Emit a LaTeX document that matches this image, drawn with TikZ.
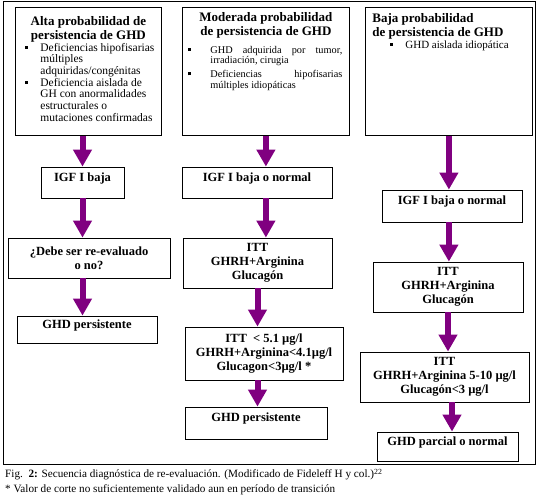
\documentclass[tikz,border=0pt]{standalone}
\usepackage{fontspec}
\setmainfont{Liberation Serif}
\usetikzlibrary{arrows.meta,positioning}

\definecolor{morado}{RGB}{128,0,128}
\newcommand{\cuadrito}{\rule[2.5pt]{3pt}{3pt}}
% vineta: sangria del cuadrito, sangria del texto
\newcommand{\punto}[2]{\par\hangindent=#2\hangafter=1\noindent\hspace*{#1}\makebox[\dimexpr#2-#1\relax][l]{\cuadrito}}

\tikzset{
  caja/.style={draw, line width=0.8pt, align=center, inner sep=3pt,
    font=\fontsize{12.5}{14}\selectfont\bfseries},
  cajatop/.style={draw, line width=0.8pt, inner sep=0pt, anchor=north west},
  una/.style={text height=8pt, text depth=10pt},
  flecha/.style={morado, line width=6pt, -{Triangle[width=18pt,length=17pt]}}
}

\begin{document}
\begin{tikzpicture}[x=1pt, y=-1pt]
  \useasboundingbox (0,0) rectangle (541,502);
  % marco exterior
  \draw[line width=1pt] (3,1.5) rectangle (535,465);

  % cajas de probabilidad
  \node[cajatop] (alta) at (15,7) {\parbox[t][128pt][t]{146pt}{%
    {\fontsize{13}{14}\selectfont\bfseries\centering
     \rule{0pt}{18pt}Alta probabilidad de\\ persistencia de GHD\par}
    {\fontsize{11.5}{11.7}\selectfont\raggedright
     \punto{10pt}{25pt}Deficiencias hipofisarias\newline múltiples\newline adquiridas/congénitas
     \punto{10pt}{25pt}Deficiencia aislada de\newline GH con anormalidades\newline estructurales o\newline mutaciones confirmadas\par}}};
  \node[cajatop] (moderada) at (182,7) {\parbox[t][128pt][t]{167pt}{%
    {\fontsize{13}{14}\selectfont\bfseries\centering
     \rule{0pt}{14pt}Moderada probabilidad\\ de persistencia de GHD\par}
    \vspace{4pt}
    {\fontsize{10.3}{10.8}\selectfont\rightskip=7pt\parskip=3pt
     \punto{6pt}{28pt}GHD adquirida por tumor,\linebreak irradiación, cirugia
     \punto{6pt}{28pt}Deficiencias hipofisarias\linebreak múltiples idiopáticas\par}}};
  \node[cajatop] (baja) at (365,7) {\parbox[t][128pt][t]{167pt}{%
    {\fontsize{13}{14}\selectfont\bfseries\raggedright\leftskip=7pt
     \rule{0pt}{15pt}Baja probabilidad\\ de persistencia de GHD\par}
    {\fontsize{11}{12}\selectfont\raggedright
     \punto{25pt}{40pt}GHD aislada idiopática\par}}};

  % columna alta
  \node[caja, una, minimum width=83pt, minimum height=31pt] (igf1) at (82.5,182.5) {IGF I baja};
  \node[caja, minimum width=162pt, minimum height=40pt] (debe1) at (89,258) {¿Debe ser re-evaluado\\ o no?};
  \node[caja, una, minimum width=140pt, minimum height=27pt] (ghd1) at (87,329.5) {GHD persistente};

  % columna moderada
  \node[caja, una, minimum width=150pt, minimum height=31pt] (igf2) at (257,182.5) {IGF I baja o normal};
  \node[caja, minimum width=149pt, minimum height=50pt] (itt2) at (257.5,263) {ITT\\ GHRH+Arginina\\ Glucagón};
  \node[caja, minimum width=158pt, minimum height=53pt] (umbral2) at (264,353.5) {ITT \ < 5.1 µg/l\\ GHRH+Arginina<4.1µg/l\\ Glucagon<3µg/l *};
  \node[caja, una, minimum width=142pt, minimum height=32pt] (ghd2) at (256,423) {GHD persistente};

  % columna baja
  \node[caja, una, minimum width=140pt, minimum height=32pt] (igf3) at (452,206) {IGF I baja o normal};
  \node[caja, minimum width=150pt, minimum height=50pt] (itt3) at (448,287) {ITT\\ GHRH+Arginina\\ Glucagón};
  \node[caja, minimum width=169pt, minimum height=50pt] (umbral3) at (444.5,377) {ITT\\ GHRH+Arginina 5-10 µg/l\\ Glucagón<3 µg/l};
  \node[caja, una, minimum width=141pt, minimum height=29pt] (ghd3) at (447.5,446.5) {GHD parcial o normal};

  % flechas
  \draw[flecha] (alta.south -| igf1.north) -- (igf1.north);
  \draw[flecha] (igf1.south) -- (debe1.north -| igf1.south);
  \draw[flecha] (debe1.south -| igf1.south) -- (ghd1.north -| igf1.south);

  \draw[flecha] (moderada.south) -- (igf2.north -| moderada.south);
  \draw[flecha] (igf2.south -| moderada.south) -- (itt2.north -| moderada.south);
  \draw[flecha] (itt2.south) -- (umbral2.north -| itt2.south);
  \draw[flecha] (umbral2.south -| itt2.south) -- (ghd2.north -| itt2.south);

  \draw[flecha] (baja.south) -- (igf3.north -| baja.south);
  \draw[flecha] (igf3.south -| baja.south) -- (itt3.north -| baja.south);
  \draw[flecha] (itt3.south) -- (umbral3.north -| itt3.south);
  \draw[flecha] (umbral3.south -| igf3.south) -- (ghd3.north -| igf3.south);

  % pie de figura
  \node[anchor=base west, inner sep=0pt, font=\fontsize{11.2}{13}\selectfont] (pie1) at (5,478)
    {Fig.\ \ \textbf{2:} Secuencia diagnóstica de re-evaluación. (Modificado de Fideleff H y col.)\textsuperscript{22}};
  \node[anchor=base west, inner sep=0pt, font=\fontsize{11.2}{13}\selectfont] (pie2) at (5,493)
    {* Valor de corte no suficientemente validado aun en período de transición};
\end{tikzpicture}
\end{document}
